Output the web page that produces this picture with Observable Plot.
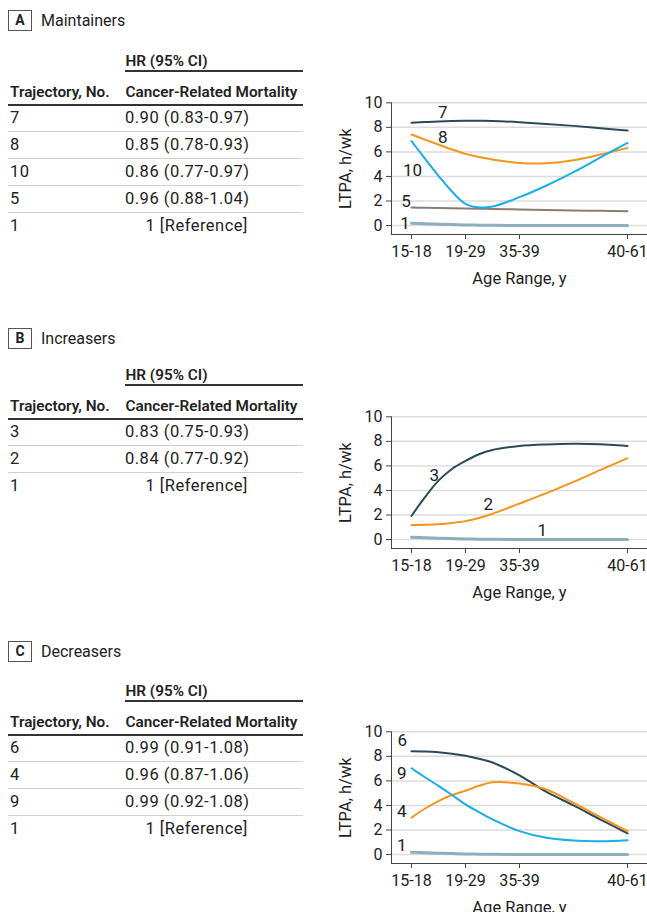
<!DOCTYPE html>
<html><head><meta charset="utf-8">
<script src="https://cdn.jsdelivr.net/npm/d3@7"></script>
<script src="https://cdn.jsdelivr.net/npm/@observablehq/plot@0.6"></script>
<style>
html,body{margin:0;padding:0;overflow:hidden;background:#fff;}
#root{position:relative;width:647px;height:912px;font-family:Roboto,sans-serif;color:#222;}
.t{position:absolute;white-space:nowrap;line-height:20px;height:20px;}
.hd{font-weight:600;font-size:15.3px;}
.val{font-size:16.5px;letter-spacing:0.5px;}
.box{position:absolute;border:1px solid #555;box-sizing:border-box;font-weight:700;font-size:14px;text-align:center;}
.ln{position:absolute;}
.chart{position:absolute;left:330px;}
</style>
</head><body>
<div id="root"></div>
<script>
// ---- data ----
const ageTicks = ["15-18", "19-29", "35-39", "40-61"];
const ageTickPos = [0, 1, 2, 4];
const xGrid = [0, 0.25, 0.5, 0.75, 1, 1.25, 1.5, 2, 2.5, 3, 3.5, 4];
const yTicks = [0, 2, 4, 6, 8, 10];

const panelLetters = ["A", "B", "C"];
const panelNames = ["Maintainers", "Increasers", "Decreasers"];

const trajA = ["7", "8", "10", "5", "1"];
const hrA = ["0.90 (0.83-0.97)", "0.85 (0.78-0.93)", "0.86 (0.77-0.97)", "0.96 (0.88-1.04)", "1 [Reference]"];
const trajB = ["3", "2", "1"];
const hrB = ["0.83 (0.75-0.93)", "0.84 (0.77-0.92)", "1 [Reference]"];
const trajC = ["6", "4", "9", "1"];
const hrC = ["0.99 (0.91-1.08)", "0.96 (0.87-1.06)", "0.99 (0.92-1.08)", "1 [Reference]"];

// LTPA, h/wk at xGrid positions
const ltpa1  = [0.19, 0.15, 0.11, 0.08, 0.05, 0.03, 0.02, 0.01, 0.0, 0.0, 0.0, 0.0];
const ltpa7  = [8.37, 8.43, 8.48, 8.51, 8.53, 8.53, 8.52, 8.42, 8.28, 8.12, 7.93, 7.74];
const ltpa8  = [7.42, 7.0, 6.6, 6.2, 5.84, 5.58, 5.38, 5.1, 5.08, 5.32, 5.78, 6.33];
const ltpa10 = [6.88, 5.45, 4.05, 2.77, 1.77, 1.48, 1.55, 2.31, 3.26, 4.35, 5.55, 6.74];
const ltpa5  = [1.47, 1.45, 1.43, 1.41, 1.39, 1.37, 1.35, 1.31, 1.27, 1.23, 1.2, 1.17];
const ltpa3  = [1.92, 3.45, 4.8, 5.75, 6.4, 6.95, 7.3, 7.62, 7.75, 7.8, 7.77, 7.63];
const ltpa2  = [1.18, 1.2, 1.25, 1.35, 1.5, 1.75, 2.1, 2.93, 3.78, 4.7, 5.67, 6.63];
const ltpa6  = [8.42, 8.4, 8.34, 8.22, 8.04, 7.8, 7.5, 6.45, 5.1, 4.0, 2.85, 1.72];
const ltpa4  = [3.0, 3.75, 4.36, 4.85, 5.2, 5.6, 5.88, 5.78, 5.3, 4.2, 3.05, 1.91];
const ltpa9  = [7.03, 6.3, 5.59, 4.85, 4.09, 3.45, 2.86, 1.91, 1.36, 1.14, 1.09, 1.17];

// line labels [text, x, y]
const labelsA = [["7", 0.58, 9.24], ["8", 0.58, 7.2], ["10", 0.02, 4.48], ["5", -0.1, 1.96], ["1", -0.12, 0.19]];
const labelsB = [["3", 0.42, 5.2], ["2", 1.42, 2.82], ["1", 2.42, 0.77]];
const labelsC = [["6", -0.17, 9.26], ["9", -0.18, 6.6], ["4", -0.18, 3.54], ["1", -0.18, 0.74]];

// ---- styles ----
const C_DARK = "#2b4b59", C_ORANGE = "#f7941d", C_BLUE = "#19aee8", C_BROWN = "#8b7c72", C_REF = "#8caebd";

const panels = [
  {traj: trajA, hr: hrA, boxOff: 0, tabOff: 0, chartTop: 95,
   series: [[ltpa1, C_REF, 3], [ltpa5, C_BROWN, 2], [ltpa7, C_DARK, 2], [ltpa8, C_ORANGE, 2], [ltpa10, C_BLUE, 2]], labels: labelsA},
  {traj: trajB, hr: hrB, boxOff: 318, tabOff: 314, chartTop: 409,
   series: [[ltpa1, C_REF, 3], [ltpa3, C_DARK, 2], [ltpa2, C_ORANGE, 2]], labels: labelsB},
  {traj: trajC, hr: hrC, boxOff: 631, tabOff: 630, chartTop: 723.5,
   series: [[ltpa1, C_REF, 3], [ltpa6, C_DARK, 2], [ltpa4, C_ORANGE, 2], [ltpa9, C_BLUE, 2]], labels: labelsC}
];

const root = document.getElementById("root");
function el(cls, css, text) {
  const d = document.createElement("div");
  d.className = cls;
  Object.assign(d.style, css);
  if (text != null) d.textContent = text;
  root.appendChild(d);
  return d;
}
function textAt(cls, x, yc, s, extra = {}) {
  return el("t " + cls, Object.assign({left: x + "px", top: (yc - 10) + "px"}, extra), s);
}
function hline(x1, x2, y, h, color) {
  return el("ln", {left: x1 + "px", width: (x2 - x1) + "px", top: (y - h / 2) + "px", height: h + "px", background: color});
}

const xMin = -0.37, xMax = 4.37, yMin = -0.73, yMax = 10;

function chart(p) {
  return Plot.plot({
    width: 317, height: 195,
    marginLeft: 61, marginRight: 0, marginTop: 7.3, marginBottom: 56,
    x: {domain: [xMin, xMax]},
    y: {domain: [yMin, yMax]},
    style: {fontFamily: "Roboto, sans-serif", fontSize: "16px", color: "#222", background: "transparent", overflow: "visible"},
    marks: [
      Plot.ruleY(yTicks, {stroke: "#dcdcdc", strokeWidth: 1.5}),
      Plot.axisY({ticks: yTicks, tickSize: 5, tickPadding: 4, label: null, stroke: "#444"}),
      Plot.axisX({ticks: ageTickPos, tickFormat: d => ageTicks[ageTickPos.indexOf(d)], tickSize: 5, tickPadding: 6, label: null, stroke: "#444"}),
      Plot.ruleX([xMin], {stroke: "#444", strokeWidth: 1}),
      Plot.ruleY([yMin], {stroke: "#444", strokeWidth: 1}),
      ...p.series.map(([vals, color, w]) => Plot.line(xGrid, {x: d => d, y: (d, i) => vals[i], curve: "catmull-rom", stroke: color, strokeWidth: w})),
      Plot.text(p.labels, {x: d => d[1], y: d => d[2], text: d => d[0], fontSize: 17, fill: "#222"}),
      Plot.text(["LTPA, h/wk"], {frameAnchor: "left", textAnchor: "middle", lineAnchor: "middle", rotate: -90, dx: -46, text: d => d, fill: "#222", fontSize: 16.5}),
      Plot.text(["Age Range, y"], {frameAnchor: "bottom", textAnchor: "middle", lineAnchor: "middle", dy: 44, text: d => d, fill: "#222", fontSize: 16.5})
    ]
  });
}

panels.forEach((p, k) => {
  const b = p.boxOff, o = p.tabOff;
  el("box", {left: "8px", top: (10 + b) + "px", width: "24px", height: "21px", lineHeight: "19px"}, panelLetters[k]);
  textAt("", 41, 20.5 + b, panelNames[k], {fontSize: "16px"});
  textAt("hd", 125.5, 60.7 + o, "HR (95% CI)");
  hline(125, 303, 71 + o, 1.3, "#333");
  textAt("hd", 10, 92 + o, "Trajectory, No.");
  textAt("hd", 125.5, 92 + o, "Cancer-Related Mortality");
  hline(8, 303, 105 + o, 2.2, "#333");
  const rh = 26.8;
  p.traj.forEach((t, i) => {
    const yc = 105 + o + rh * (i + 0.5);
    textAt("val", 10, yc, t);
    if (p.hr[i].startsWith("1 ")) {
      const d = textAt("val", 0, yc, p.hr[i]);
      d.style.left = ""; d.style.right = (647 - 248) + "px";
    } else {
      textAt("val", 125, yc, p.hr[i]);
    }
    if (i < p.traj.length - 1) hline(8, 303, 105 + o + rh * (i + 1), 1, "#cfcfcf");
  });
  const c = chart(p);
  const w = el("chart", {top: p.chartTop + "px"});
  w.appendChild(c);
});
</script>
</body></html>
